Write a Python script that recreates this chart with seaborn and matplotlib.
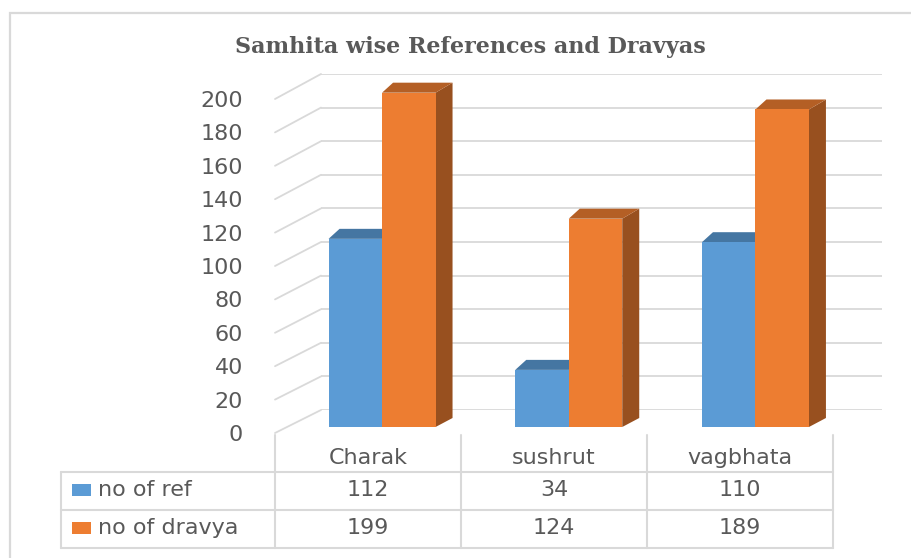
import matplotlib
matplotlib.use("Agg")
import matplotlib.pyplot as plt
import matplotlib.transforms as mtransforms
from matplotlib.patches import Polygon, Rectangle, ConnectionPatch
from matplotlib.lines import Line2D
import numpy as np
import pandas as pd
import seaborn as sns

# ---------------- data ----------------
categories = ["Charak", "sushrut", "vagbhata"]
series_names = ["no of ref", "no of dravya"]
no_of_ref = [112, 34, 110]
no_of_dravya = [199, 124, 189]
y_ticks = list(range(0, 201, 20))
title = "Samhita wise References and Dravyas"

colors = ["#5B9BD5", "#ED7D31"]
grid_c = "#D9D9D9"
text_c = "#595959"

df = pd.DataFrame({
    "samhita": categories * 2,
    "series": [series_names[0]] * 3 + [series_names[1]] * 3,
    "value": no_of_ref + no_of_dravya,
})

sns.set_theme(style="white")
plt.rcParams["font.family"] = ["DejaVu Sans"]

W, H = 911, 558
fig = plt.figure(figsize=(W / 100, H / 100), dpi=100)
fig.patch.set_facecolor("white")


def rect(left, top, right, bottom):
    return [left / W, 1 - bottom / H, (right - left) / W, (bottom - top) / H]


def fy(ypix):
    return 1 - ypix / H


def fx(xpix):
    return xpix / W


# three planes: back wall, front (labels), bar plane
ax_back = fig.add_axes(rect(321, 74, 882, 410))
ax_front = fig.add_axes(rect(275, 99, 833, 433))
ax = fig.add_axes(rect(288.7, 91, 848.8, 427))

for a in (ax_back, ax_front, ax):
    a.set_xlim(-0.5, 2.5)
    a.set_ylim(0, 200)
    a.patch.set_visible(False)
    for s in a.spines.values():
        s.set_visible(False)

# back wall gridlines
for v in y_ticks:
    ax_back.axhline(v, color=grid_c, lw=1.3, zorder=0)
ax_back.set_xticks([])
ax_back.set_yticks([])

# side wall diagonals
for v in y_ticks:
    cp = ConnectionPatch(xyA=(-0.5, v), coordsA=ax_front.transData,
                         xyB=(-0.5, v), coordsB=ax_back.transData,
                         color=grid_c, lw=1.3)
    fig.add_artist(cp)

# bars
sns.barplot(data=df, x="samhita", y="value", hue="series",
            order=categories, hue_order=series_names,
            palette=colors, saturation=1, width=0.573, gap=0,
            ax=ax, legend=False, edgecolor="none", linewidth=0)
ax.set_xlim(-0.5, 2.5)
ax.set_ylim(0, 200)
ax.set_xlabel("")
ax.set_ylabel("")
ax.set_xticks([])
ax.set_yticks([])

# 3-D faces computed from the seaborn bar patches
fig.canvas.draw()
bars = [p for p in ax.patches if isinstance(p, Rectangle)]
for p in bars:
    x0, y0 = p.get_x(), p.get_y()
    x1, y1 = x0 + p.get_width(), y0 + p.get_height()
    (px0, py0), (px1, py1) = ax.transData.transform([(x0, y0), (x1, y1)])
    fc = np.array(matplotlib.colors.to_rgb(p.get_facecolor()))
    dl, dr, dy = 11, 17, 10
    top = Polygon([(px0, py1), (px1, py1), (px1 + dr, py1 + dy), (px0 + dl, py1 + dy)],
                  closed=True, transform=mtransforms.IdentityTransform(),
                  facecolor=fc * 0.76, edgecolor="none", zorder=0.8)
    side = Polygon([(px1, py0), (px1 + dr, py0 + dy - 1), (px1 + dr, py1 + dy), (px1, py1)],
                   closed=True, transform=mtransforms.IdentityTransform(),
                   facecolor=fc * 0.64, edgecolor="none", zorder=0.8)
    for poly in (side, top):
        ax.add_artist(poly)
        poly.set_clip_on(False)

# front plane labels
fs = 16
ax_front.set_yticks(y_ticks)
ax_front.set_yticklabels([str(v) for v in y_ticks])
ax_front.set_xticks(range(len(categories)))
ax_front.set_xticklabels(categories)
ax_front.tick_params(axis="y", length=0, pad=23, labelsize=16, labelcolor=text_c)
ax_front.tick_params(axis="x", length=0, pad=18, labelsize=fs, labelcolor=text_c)
for lbl in ax_front.get_xticklabels():
    lbl.set_va("center")

# title
fig.text(fx(470), fy(47), title, ha="center", va="center",
         fontsize=16, fontweight="bold", family=["DejaVu Serif"], color=text_c)

# outer frame
fig.add_artist(Rectangle((fx(10), fy(560)), fx(920) - fx(10), fy(13) - fy(560),
                         transform=fig.transFigure, fill=False,
                         edgecolor=grid_c, lw=1.6))

# data table
bt = mtransforms.blended_transform_factory(ax_front.transData, fig.transFigure)
col_edges = [-0.5, 0.5, 1.5, 2.5]
for e in col_edges:
    fig.add_artist(Line2D([e, e], [fy(435), fy(548)], transform=bt, color=grid_c, lw=1.5))
for yy in (472, 510, 548):
    fig.add_artist(Line2D([fx(61), fx(833)], [fy(yy), fy(yy)],
                          transform=fig.transFigure, color=grid_c, lw=1.5))
fig.add_artist(Line2D([fx(61), fx(61)], [fy(472), fy(548)],
                      transform=fig.transFigure, color=grid_c, lw=1.5))

row_y = [490, 528]
for r, (name, vals) in enumerate(zip(series_names, [no_of_ref, no_of_dravya])):
    fig.add_artist(Rectangle((fx(72), fy(row_y[r] + 6)), fx(91) - fx(72), fy(row_y[r] - 6) - fy(row_y[r] + 6),
                             transform=fig.transFigure, facecolor=colors[r], edgecolor="none"))
    fig.text(fx(98), fy(row_y[r]), name, ha="left", va="center", fontsize=fs, color=text_c)
    for i, v in enumerate(vals):
        fig.text(i, fy(row_y[r]), str(v), transform=bt, ha="center", va="center",
                 fontsize=fs, color=text_c)

fig.savefig("out.png", dpi=100)
